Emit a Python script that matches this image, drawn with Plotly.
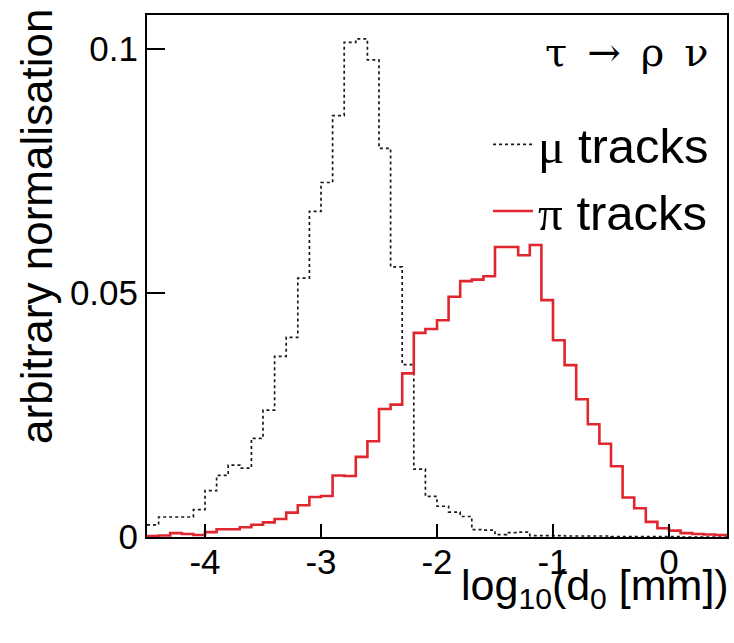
import plotly.graph_objects as go

# ---- data ----
bin_lo = -4.5
bin_width = 0.1
n_bins = 50

mu_tracks = [0.0025, 0.0041, 0.0041, 0.0041, 0.0056, 0.0095, 0.0126, 0.0147, 0.0141, 0.0202,
             0.0260, 0.0370, 0.0409, 0.0530, 0.0667, 0.0726, 0.0863, 0.1013, 0.1020, 0.0977,
             0.0796, 0.0553, 0.0353, 0.0139, 0.0083, 0.0063, 0.0051, 0.0042, 0.0015, 0.0014,
             0.0005, 0.0009, 0.0010, 0.0003, 0.0003, 0.0003, 0.0002, 0.0002, 0.0002, 0.0002,
             0.0001, 0.0001, 0.0001, 0.0001, 0.0001, 0.0001, 0.0000, 0.0000, 0.0000, 0.0000]

pi_tracks = [0.0002, 0.0003, 0.0008, 0.0006, 0.0004, 0.0010, 0.0016, 0.0016, 0.0020, 0.0025,
             0.0030, 0.0037, 0.0050, 0.0065, 0.0082, 0.0084, 0.0126, 0.0125, 0.0164, 0.0196,
             0.0262, 0.0271, 0.0335, 0.0418, 0.0426, 0.0444, 0.0492, 0.0524, 0.0527, 0.0534,
             0.0594, 0.0594, 0.0577, 0.0598, 0.0485, 0.0403, 0.0352, 0.0282, 0.0231, 0.0191,
             0.0145, 0.0081, 0.0059, 0.0031, 0.0018, 0.0013, 0.0008, 0.0006, 0.0005, 0.0004]

x_tickvals = [-4, -3, -2, -1, 0]
x_ticktext = ["-4", "-3", "-2", "-1", "0"]
y_tickvals = [0, 0.05, 0.1]
y_ticktext = ["0", "0.05", "0.1"]

edges = [round(bin_lo + i * bin_width, 4) for i in range(n_bins + 1)]

SANS = "Liberation Sans, Arial, Helvetica, sans-serif"
SERIF = "DejaVu Serif, Liberation Serif, serif"

fig = go.Figure()
fig.add_trace(go.Scatter(
    x=edges, y=mu_tracks + [mu_tracks[-1]], mode="lines", line_shape="hv",
    line=dict(color="#1a1a1a", width=1.7, dash="dot"),
    name="<span style='font-family:Liberation Serif'>μ</span> tracks",
))
fig.add_trace(go.Scatter(
    x=edges, y=pi_tracks + [pi_tracks[-1]], mode="lines", line_shape="hv",
    line=dict(color="#e0262f", width=2.6),
    name="<span style='font-family:Liberation Serif'>π</span> tracks",
))

W, H = 734, 643
ml, mr, mt, mb = 147, 5, 15, 106
pw, ph = W - ml - mr, H - mt - mb

def px(x):
    return (x - ml) / pw

def py(y):
    return (H - mb - y) / ph

fig.update_layout(
    width=W, height=H,
    margin=dict(l=ml, r=mr, t=mt, b=mb, pad=0),
    plot_bgcolor="white", paper_bgcolor="white",
    font=dict(family=SANS, color="black"),
    showlegend=True,
    legend=dict(
        x=px(716), xanchor="right", y=py(106), yanchor="top",
        font=dict(size=49, family=SANS, color="black"),
        bgcolor="rgba(0,0,0,0)", borderwidth=0,
        itemwidth=40, tracegroupgap=0,
    ),
    xaxis=dict(
        range=[-4.5, 0.5], tickvals=x_tickvals, ticktext=x_ticktext,
        ticks="inside", ticklen=13, tickwidth=2, tickcolor="black",
        showline=True, linecolor="black", linewidth=2, mirror=True,
        showgrid=False, zeroline=False, ticklabelstandoff=-7,
        tickfont=dict(size=35, family=SANS, color="black"),
    ),
    yaxis=dict(
        range=[0, 0.1069], tickvals=y_tickvals, ticktext=y_ticktext,
        ticks="inside", ticklen=18, tickwidth=2, tickcolor="black",
        showline=True, linecolor="black", linewidth=2, mirror=True,
        showgrid=False, zeroline=False,
        tickfont=dict(size=35, family=SANS, color="black"),
    ),
    annotations=[
        dict(text="arbitrary normalisation", textangle=-90,
             xref="paper", yref="paper", x=px(36), y=py(7), xanchor="center", yanchor="top",
             showarrow=False, font=dict(size=44, family=SANS, color="black")),
        dict(text="log<sub>10</sub>(d<sub>0</sub> [mm])",
             xref="paper", yref="paper", x=px(733), y=py(559), xanchor="right", yanchor="top",
             showarrow=False, font=dict(size=43, family=SANS, color="black")),
        dict(text="τ\u2002→\u2002ρ\u2002ν",
             xref="paper", yref="paper", x=px(712), y=py(27), xanchor="right", yanchor="top",
             showarrow=False, font=dict(size=40, family=SERIF, color="black")),
    ],
)

fig.write_html("out.html", post_script="document.body.style.margin='0';",
               config={"displayModeBar": False})
